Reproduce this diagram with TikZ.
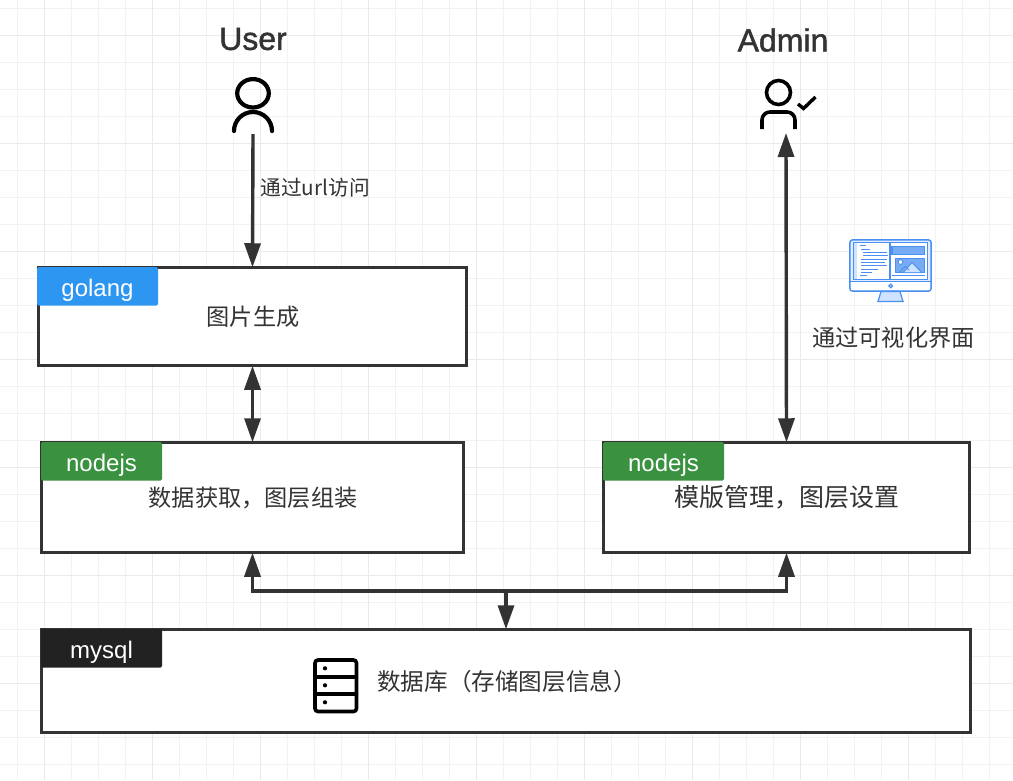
\documentclass[tikz,border=0pt]{standalone}
\usepackage{fontspec}
\setmainfont{Liberation Sans}
\newfontfamily\cjk{Noto Sans CJK SC}
\newfontfamily\titlefont[RawFeature={embolden=1.5}]{Liberation Sans}
\usetikzlibrary{positioning}
\usetikzlibrary{arrows.meta}
\definecolor{inkgray}{HTML}{333333}
\definecolor{gridminor}{HTML}{F2F2F2}
\definecolor{gridmajor}{HTML}{EAEAEA}
\definecolor{tagblue}{HTML}{2D96F0}
\definecolor{taggreen}{HTML}{3A9140}
\definecolor{tagdark}{HTML}{222222}
\definecolor{screenblue}{HTML}{4A90F2}
\definecolor{screenlight}{HTML}{CFE2FF}
\tikzset{
  mybox/.style={draw=inkgray,fill=white,line width=3pt,outer sep=0pt,inner sep=0pt},
  mytag/.style={rounded corners=1.5pt,text=white,outer sep=0pt,inner sep=0pt,
    minimum width=121pt,minimum height=38.5pt,anchor=north west,
    text height=21pt,text depth=0pt,
    font=\fontsize{24}{28}\selectfont},
  mytext/.style={text=inkgray,inner sep=0pt,font=\cjk\fontsize{23.2}{28}\selectfont},
  mytitle/.style={text=inkgray,inner sep=0pt,font=\titlefont\fontsize{32}{38}\selectfont},
  myicon/.style={inner sep=0pt,outer sep=0pt},
  myarrow/.style={draw=inkgray,line width=3.4pt,
    -{Triangle[length=24pt,width=16pt]}},
  mybiarrow/.style={draw=inkgray,line width=3.4pt,
    {Triangle[length=24pt,width=16pt]}-{Triangle[length=24pt,width=16pt]}},
  myline/.style={black,line width=4.2pt,line cap=round},
  mydraw/.style={screenblue,line width=1.2pt}
}
\begin{document}
\begin{tikzpicture}[x=1pt,y=-1pt]
\useasboundingbox (0,0) rectangle (1013,780);
\fill[white] (0,0) rectangle (1013,780);

% grid
\foreach \i in {0,...,37} {
  \draw[gridminor,line width=1pt] ({17+27*\i},0) -- ({17+27*\i},780);
}
\foreach \i in {0,...,28} {
  \draw[gridminor,line width=1pt] (0,{8+27*\i}) -- (1013,{8+27*\i});
}
\foreach \i in {0,...,9} {
  \draw[gridmajor,line width=1pt] ({44+108*\i},0) -- ({44+108*\i},780);
}
\foreach \i in {0,...,6} {
  \draw[gridmajor,line width=1pt] (0,{35+108*\i}) -- (1013,{35+108*\i});
}

% boxes
\node[mybox,minimum width=428pt,minimum height=98.5pt] (goBox) at (252.5,316.5) {};
\node[mybox,minimum width=422pt,minimum height=110.5pt] (dataBox) at (252.5,497.5) {};
\node[mybox,minimum width=366pt,minimum height=110.5pt] (manageBox) at (786.5,497.5) {};
\node[mybox,minimum width=929pt,minimum height=103.5pt] (dbBox) at (506,681) {};

\node[mytag,fill=tagblue] (goTag) at (37,267) {golang};
\node[mytag,fill=taggreen] (dataTag) at (41,442) {nodejs};
\node[mytag,fill=taggreen] (manageTag) at (603,442) {nodejs};
\node[mytag,fill=tagdark] (dbTag) at (41,629) {mysql};

\node[mytext] (goText) at (253,317) {图片生成};
\node[mytext] (dataText) at (253,498) {数据获取，图层组装};
\node[mytext,font=\cjk\fontsize{25}{28}\selectfont] (manageText) at (786.5,497) {模版管理，图层设置};
\node[mytext,anchor=west,font=\cjk\fontsize{23.6}{28}\selectfont] (dbText) at (377,682) {数据库（存储图层信息）};

% people
\node[mytitle] (userTitle) at (253,39) {User};
\node[mytitle] (adminTitle) at (783,40) {Admin};
\node[myicon,minimum width=44pt,minimum height=58pt] (userIcon) at (253,105) {};
\node[myicon,minimum width=40pt,minimum height=50pt] (adminIcon) at (786,108) {};

\draw[myline] (253,93.3) circle[x radius=15.8,y radius=14.2];
\draw[myline] (234,131) arc[start angle=180,end angle=360,radius=19];
\draw[myline,line width=3.6pt] (778.5,92.5) circle[radius=12];
\draw[myline,line width=3.6pt,line cap=butt] (762,129) -- (762,120)
  arc[start angle=180,end angle=270,radius=8] -- (787,112)
  arc[start angle=270,end angle=360,radius=8] -- (795,129);
\draw[black,line width=3.4pt] (798,104) -- (803.5,108.5) -- (815.5,97);

% connectors
\coordinate (busJoin) at (dbBox.north |- 0,591);
\draw[myarrow] (userIcon.south) -- node[mytext,pos=.405,right=6pt,font=\cjk\fontsize{20.7}{24}\selectfont] (urlText) {通过url访问} (goBox.north);
\draw[mybiarrow] (adminIcon.south) -- (manageBox.north);
\draw[mybiarrow] (goBox.south) -- (dataBox.north);
\draw[myarrow] (busJoin) -| (dataBox.south);
\draw[myarrow] (busJoin) -| (manageBox.south);
\draw[myarrow] (busJoin) -- (dbBox.north);

% screen
\node[mytext] (screenText) at (893.5,338) {通过可视化界面};
\draw[mydraw,line width=1.5pt,fill=screenlight!60,rounded corners=3pt] (849.8,239.8) rectangle (931.2,291.2);
\fill[screenblue] (853,242) rectangle (928.3,280);
\draw[mydraw] (849.6,281.5) -- (931.4,281.5);
\fill[white] (851,282.2) rectangle (930,290.4);
\fill[screenlight] (854.2,243.2) rectangle (856.7,278.8);
\fill[white] (856.7,243.2) rectangle (889.3,278.8);
\fill[white] (891,243.2) rectangle (926.8,278.8);
\draw[mydraw,fill=screenlight,line join=round] (881,291.5) -- (900,291.5) -- (903,301.5) -- (878,301.5) -- cycle;
\draw[mydraw,line width=1.2pt] (876.5,301.5) -- (904,301.5);
\draw[mydraw,fill=screenlight] (890.7,285.9) circle[radius=1.8];
\foreach \ya/\xa/\xb in {245.7/860/865.7,249/861/870,252.3/863/886.7,255.7/863/888,259/861/886.7,262.3/861/885,265.7/861/886.7,269/861/878,272.3/861/871.7,275.7/860/866.7} {
  \draw[screenblue,line width=1pt] (\xa,\ya) -- (\xb,\ya);
}
\draw[mydraw,fill=screenblue!75] (891.9,246.7) rectangle (924.3,254.3);
\draw[mydraw,fill=screenblue!75] (895.7,258.3) rectangle (924.3,272.7);
\draw[mydraw,line width=.9pt,fill=white] (900.5,262) circle[radius=2.4];
\draw[mydraw,line width=.9pt,fill=screenlight,line join=round] (903,272.7) -- (912,262.5) -- (922,272.7) -- cycle;
\draw[mydraw,line width=.9pt] (899,272.7) -- (905,266.5) -- (909,270);
\draw[mydraw] (892,275.3) -- (925,275.3);

% database
\node[myicon,minimum width=45pt,minimum height=55pt] (dbIcon) at (335.5,685.5) {};
\draw[black,line width=3.6pt,rounded corners=3pt] (315,660) rectangle (356.5,711.5);
\foreach \ya in {677,694} {
  \draw[black,line width=3.6pt] (315,\ya) -- (356.5,\ya);
}
\foreach \ya in {668.3,685.3,702.3} {
  \fill[black] (325,\ya) circle[radius=2.1];
}
\end{tikzpicture}
\end{document}
